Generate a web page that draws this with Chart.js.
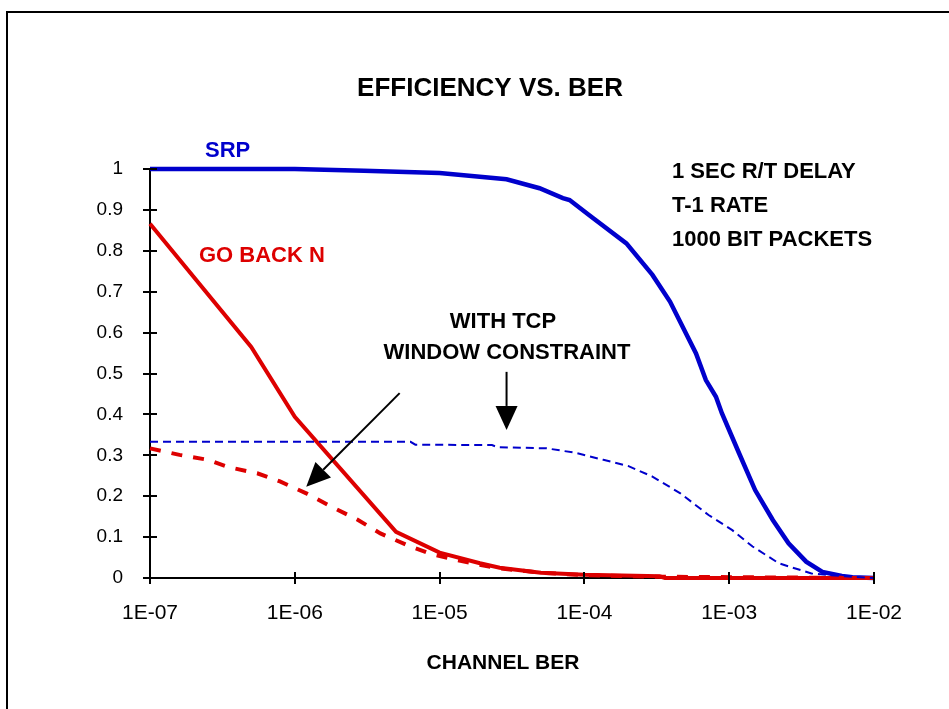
<!DOCTYPE html>
<html><head><meta charset="utf-8">
<script src="https://cdn.jsdelivr.net/npm/chart.js@4/dist/chart.umd.min.js"></script>
<style>html,body{margin:0;padding:0;background:#fff;}#wrap{width:949px;height:709px;}</style>
</head><body><div id="wrap"><canvas id="c" width="949" height="709"></canvas></div>
<script>
// ---- data ----
const chartTitle = 'EFFICIENCY VS. BER';
const xAxisTitle = 'CHANNEL BER';
const xTickValues = [1e-7, 1e-6, 1e-5, 1e-4, 1e-3, 1e-2];
const xTickLabels = ['1E-07', '1E-06', '1E-05', '1E-04', '1E-03', '1E-02'];
const yTickValues = [0, 0.1, 0.2, 0.3, 0.4, 0.5, 0.6, 0.7, 0.8, 0.9, 1];
const yTickLabels = ['0', '0.1', '0.2', '0.3', '0.4', '0.5', '0.6', '0.7', '0.8', '0.9', '1'];

const seriesNames = ['SRP', 'GO BACK N', 'SRP WITH TCP WINDOW', 'GO BACK N WITH TCP WINDOW'];

const srpBer = [1e-7, 1e-6, 3e-6, 1e-5, 2.9e-5, 4.9e-5, 7.1e-5, 7.9e-5, 1.07e-4, 1.95e-4, 2.95e-4, 3.9e-4, 5.9e-4, 6.9e-4, 8.1e-4, 8.9e-4, 1.17e-3, 1.51e-3, 2.0e-3, 2.57e-3, 3.4e-3, 4.4e-3, 6.0e-3, 7.1e-3, 1e-2];
const srpEff = [1.0, 1.0, 0.996, 0.99, 0.975, 0.953, 0.929, 0.924, 0.888, 0.818, 0.741, 0.676, 0.549, 0.484, 0.443, 0.403, 0.305, 0.215, 0.142, 0.085, 0.040, 0.015, 0.005, 0.002, 0.0];

const gbnBer = [1e-7, 5e-7, 1e-6, 5e-6, 1e-5, 1.9e-5, 2.6e-5, 5e-5, 1e-4, 3.3e-4, 3.6e-4, 1e-2];
const gbnEff = [0.866, 0.565, 0.394, 0.113, 0.062, 0.036, 0.025, 0.013, 0.008, 0.004, 0.0, 0.0];

const srpTcpBer = [1e-7, 6.3e-6, 6.8e-6, 2.3e-5, 2.5e-5, 5.5e-5, 8.7e-5, 1.35e-4, 2.0e-4, 2.95e-4, 4.6e-4, 7.2e-4, 1.05e-3, 1.45e-3, 2.2e-3, 3.7e-3, 6.3e-3, 1e-2];
const srpTcpEff = [0.333, 0.333, 0.326, 0.325, 0.320, 0.317, 0.306, 0.289, 0.274, 0.248, 0.207, 0.154, 0.117, 0.077, 0.036, 0.011, 0.004, 0.0];

const gbnTcpBer = [1e-7, 1.6e-7, 2.5e-7, 3.5e-7, 5.5e-7, 7.9e-7, 1.2e-6, 1.8e-6, 2.7e-6, 3.9e-6, 5.9e-6, 8.5e-6, 1.3e-5, 2.5e-5, 5e-5, 1e-4, 3.3e-4, 1e-2];
const gbnTcpEff = [0.317, 0.301, 0.289, 0.271, 0.256, 0.236, 0.207, 0.174, 0.143, 0.109, 0.081, 0.060, 0.044, 0.024, 0.013, 0.007, 0.003, 0.0];

// annotation arrows (data coordinates: [fromBer, fromEff, toBer, toEff])
const arrowTcpGbn = [5.3e-6, 0.452, 1.2e-6, 0.223];
const arrowTcpSrp = [2.9e-5, 0.504, 2.9e-5, 0.362];
const noteLines = ['1 SEC R/T DELAY', 'T-1 RATE', '1000 BIT PACKETS'];
const tcpNote = ['WITH TCP', 'WINDOW CONSTRAINT'];

// ---- chart ----
const BLUE = '#0000cc', RED = '#dd0000';
const FONT = '"Liberation Sans", Arial, Helvetica, sans-serif';
const pts = (xs, ys) => xs.map((x, i) => ({ x: x, y: ys[i] }));

const deco = {
  id: 'deco',
  beforeDraw(chart) {
    const ctx = chart.ctx;
    ctx.save();
    ctx.fillStyle = '#fff';
    ctx.fillRect(0, 0, chart.width, chart.height);
    ctx.strokeStyle = '#000';
    ctx.lineWidth = 2;
    ctx.strokeRect(7, 12, 1200, 1200);
    ctx.restore();
  },
  afterDatasetsDraw(chart) {
    const ctx = chart.ctx, xs = chart.scales.x, ys = chart.scales.y, a = chart.chartArea;
    ctx.save();
    // crossing tick marks
    ctx.strokeStyle = '#000';
    ctx.lineWidth = 2;
    ctx.beginPath();
    yTickValues.forEach(v => {
      const y = Math.round(ys.getPixelForValue(v));
      ctx.moveTo(a.left - 7, y); ctx.lineTo(a.left + 7, y);
    });
    xTickValues.forEach(v => {
      const x = Math.round(xs.getPixelForValue(v));
      ctx.moveTo(x, a.bottom - 6); ctx.lineTo(x, a.bottom + 6);
    });
    ctx.stroke();
    // arrows
    const arrow = (arr) => {
      const x1 = xs.getPixelForValue(arr[0]), y1 = ys.getPixelForValue(arr[1]);
      const x2 = xs.getPixelForValue(arr[2]), y2 = ys.getPixelForValue(arr[3]);
      const ang = Math.atan2(y2 - y1, x2 - x1);
      const hl = 24, hw = 11;
      const bx = x2 - hl * Math.cos(ang), by = y2 - hl * Math.sin(ang);
      ctx.strokeStyle = '#000'; ctx.lineWidth = 2;
      ctx.beginPath(); ctx.moveTo(x1, y1); ctx.lineTo(bx, by); ctx.stroke();
      ctx.fillStyle = '#000';
      ctx.beginPath();
      ctx.moveTo(x2, y2);
      ctx.lineTo(bx + hw * Math.sin(ang), by - hw * Math.cos(ang));
      ctx.lineTo(bx - hw * Math.sin(ang), by + hw * Math.cos(ang));
      ctx.closePath(); ctx.fill();
    };
    arrow(arrowTcpGbn);
    arrow(arrowTcpSrp);
    // texts
    ctx.textBaseline = 'middle';
    ctx.textAlign = 'center';
    ctx.fillStyle = '#000';
    ctx.font = 'bold 26px ' + FONT;
    ctx.fillText(chartTitle, 490, 89);
    ctx.font = 'bold 21px ' + FONT;
    ctx.fillText(xAxisTitle, 503, 663);
    ctx.font = 'bold 22px ' + FONT;
    ctx.fillText(tcpNote[0], 503, 322);
    ctx.fillText(tcpNote[1], 507, 353);
    ctx.textAlign = 'left';
    noteLines.forEach((t, i) => ctx.fillText(t, 672, 172 + i * 34));
    ctx.font = 'bold 22px ' + FONT;
    ctx.fillStyle = BLUE;
    ctx.fillText(seriesNames[0], 205, 151);
    ctx.fillStyle = RED;
    ctx.fillText(seriesNames[1], 199, 256);
    ctx.restore();
  }
};

new Chart(document.getElementById('c'), {
  type: 'line',
  data: {
    datasets: [
      { label: seriesNames[2], data: pts(srpTcpBer, srpTcpEff), borderColor: BLUE, borderWidth: 2, borderDash: [8, 5], pointRadius: 0, tension: 0, fill: false, clip: 8 },
      { label: seriesNames[3], data: pts(gbnTcpBer, gbnTcpEff), borderColor: RED, borderWidth: 4, borderDash: [11, 11], pointRadius: 0, tension: 0, fill: false, clip: 8 },
      { label: seriesNames[1], data: pts(gbnBer, gbnEff), borderColor: RED, borderWidth: 4, pointRadius: 0, tension: 0, fill: false, clip: 8 },
      { label: seriesNames[0], data: pts(srpBer, srpEff), borderColor: BLUE, borderWidth: 4.5, pointRadius: 0, tension: 0, fill: false, clip: 8 }
    ]
  },
  options: {
    responsive: false,
    animation: false,
    devicePixelRatio: 1,
    layout: { padding: { left: 0, top: 169, right: 75, bottom: 0 } },
    plugins: { legend: { display: false }, tooltip: { enabled: false }, title: { display: false } },
    scales: {
      x: {
        type: 'logarithmic', min: 1e-7, max: 1e-2,
        border: { display: true, color: '#000', width: 2 },
        grid: { display: false, drawTicks: false },
        afterBuildTicks: s => { s.ticks = xTickValues.map(v => ({ value: v })); },
        afterFit: s => { s.height = 131; },
        ticks: {
          autoSkip: false, maxRotation: 0, padding: 23, color: '#000',
          font: { family: FONT, size: 21 },
          callback: (v) => { const i = xTickValues.findIndex(t => Math.abs(Math.log10(t) - Math.log10(v)) < 1e-6); return i >= 0 ? xTickLabels[i] : ''; }
        }
      },
      y: {
        type: 'linear', min: 0, max: 1,
        border: { display: true, color: '#000', width: 2 },
        grid: { display: false, drawTicks: false },
        afterBuildTicks: s => { s.ticks = yTickValues.map(v => ({ value: v })); },
        afterFit: s => { s.width = 150; },
        ticks: {
          autoSkip: false, padding: 27, color: '#000',
          font: { family: FONT, size: 19 },
          callback: (v, i) => yTickLabels[i]
        }
      }
    }
  },
  plugins: [deco]
});
</script>
</body></html>
